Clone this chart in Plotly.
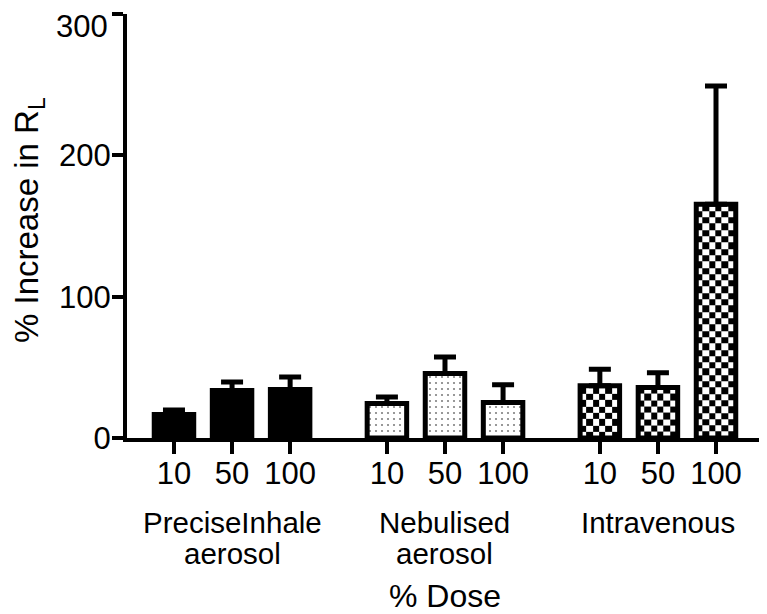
import numpy as np
import plotly.graph_objects as go

# ---- data ----
group_labels = [["PreciseInhale", "aerosol"], ["Nebulised", "aerosol"], ["Intravenous"]]
dose_labels = ["10", "50", "100"]
means_precise = [16.6, 33.6, 34.4]
sem_precise = [3.2, 6.0, 8.8]
means_neb = [24.4, 45.6, 25.1]
sem_neb = [4.6, 11.7, 12.6]
means_iv = [36.9, 35.7, 165.4]
sem_iv = [11.7, 10.5, 83.7]
y_ticks = [0, 100, 200, 300]

FONT = "Liberation Sans, Arial, Helvetica, sans-serif"
GROUP_STEP = 3 + 2 / 3
BAR_W = 0.68
LW = 5
TICK_FS = 31

def xpos(g):
    return [g * GROUP_STEP + d for d in range(len(dose_labels))]

err_style = dict(type="data", symmetric=False, color="black", thickness=5, width=11)

fig = go.Figure()

# checkerboard fill for the intravenous bars (heatmaps sit beneath the bar outlines)
sq_x, sq_y = 0.109, 4.46
for xc, v in zip(xpos(2), means_iv):
    xe = list(np.arange(xc - BAR_W / 2, xc + BAR_W / 2 - 1e-9, sq_x)) + [xc + BAR_W / 2]
    ye = list(np.arange(0, v - 1e-9, sq_y)) + [v]
    z = [[(i + j) % 2 for j in range(len(xe) - 1)] for i in range(len(ye) - 1)]
    fig.add_trace(go.Heatmap(x=xe, y=ye, z=z, zmin=0, zmax=1,
                             colorscale=[[0, "white"], [1, "black"]],
                             showscale=False, hoverinfo="skip"))

# PreciseInhale: solid black
fig.add_trace(go.Bar(x=xpos(0), y=means_precise, width=BAR_W,
                     marker=dict(color="black", line=dict(color="black", width=LW)),
                     error_y=dict(array=sem_precise, arrayminus=[0] * 3, **err_style)))
# Nebulised: dotted
fig.add_trace(go.Bar(x=xpos(1), y=means_neb, width=BAR_W,
                     marker=dict(color="white", line=dict(color="black", width=LW),
                                 pattern=dict(shape=".", fgcolor="black", bgcolor="white",
                                              size=6, solidity=0.1)),
                     error_y=dict(array=sem_neb, arrayminus=[0] * 3, **err_style)))
# Intravenous: outline only (checker beneath)
fig.add_trace(go.Bar(x=xpos(2), y=means_iv, width=BAR_W,
                     marker=dict(color="rgba(0,0,0,0)", line=dict(color="black", width=LW)),
                     error_y=dict(array=sem_iv, arrayminus=[0] * 3, **err_style)))

all_x = xpos(0) + xpos(1) + xpos(2)
y_ticktext = [str(t) for t in y_ticks[:-1]] + [""]

# the page body has an 8px margin, so the figure is drawn 8px smaller and offset
fig.update_layout(
    width=759, height=606,
    margin=dict(l=119, r=2, t=6, b=176, autoexpand=False),
    plot_bgcolor="white", paper_bgcolor="white",
    showlegend=False, barmode="overlay",
    font=dict(family=FONT, color="black"),
    xaxis=dict(range=[-0.809, 10.177], tickvals=all_x, ticktext=dose_labels * 3,
               automargin=False, ticklabeloverflow="allow",
               showline=True, linecolor="black", linewidth=4, showgrid=False, zeroline=False,
               ticks="outside", ticklen=12, tickwidth=4, tickcolor="black",
               ticklabelstandoff=-7,
               tickfont=dict(size=TICK_FS, family=FONT, color="black")),
    yaxis=dict(range=[0, 300], tickvals=y_ticks, ticktext=y_ticktext,
               automargin=False, ticklabeloverflow="allow",
               showline=True, linecolor="black", linewidth=4, showgrid=False, zeroline=False,
               ticks="outside", ticklen=11, tickwidth=4, tickcolor="black",
               ticklabelstandoff=-5,
               tickfont=dict(size=TICK_FS, family=FONT, color="black")),
)

# top y tick label, nudged down only as far as needed to stay inside the figure
fig.add_annotation(x=(109 - 127) / 638, xref="paper", y=y_ticks[-1], yref="y",
                   text=str(y_ticks[-1]), showarrow=False, xanchor="right", yanchor="top",
                   yshift=6, borderpad=0,
                   font=dict(size=TICK_FS, family=FONT, color="black"))

# group labels
for g, lines in enumerate(group_labels):
    xc = g * GROUP_STEP + 1
    for k, line in enumerate(lines):
        fig.add_annotation(x=xc, xref="x", y=(438 - 522 - 31 * k) / 424, yref="paper",
                           text=line, showarrow=False, xanchor="center", yanchor="middle",
                           font=dict(size=29.5, family=FONT, color="black"))

# axis titles
fig.add_annotation(x=(445 - 127) / 638, xref="paper", y=(438 - 596) / 424, yref="paper",
                   text="% Dose", showarrow=False, xanchor="center", yanchor="middle",
                   borderpad=0,
                   font=dict(size=32, family=FONT, color="black"))
fig.add_annotation(x=(29 - 127) / 638, xref="paper", y=(438 - 220) / 424, yref="paper",
                   text="% Increase in R<sub>L</sub>", textangle=-90, showarrow=False,
                   xanchor="center", yanchor="middle", borderpad=0,
                   font=dict(size=33, family=FONT, color="black"))

fig.write_html("out.html")
